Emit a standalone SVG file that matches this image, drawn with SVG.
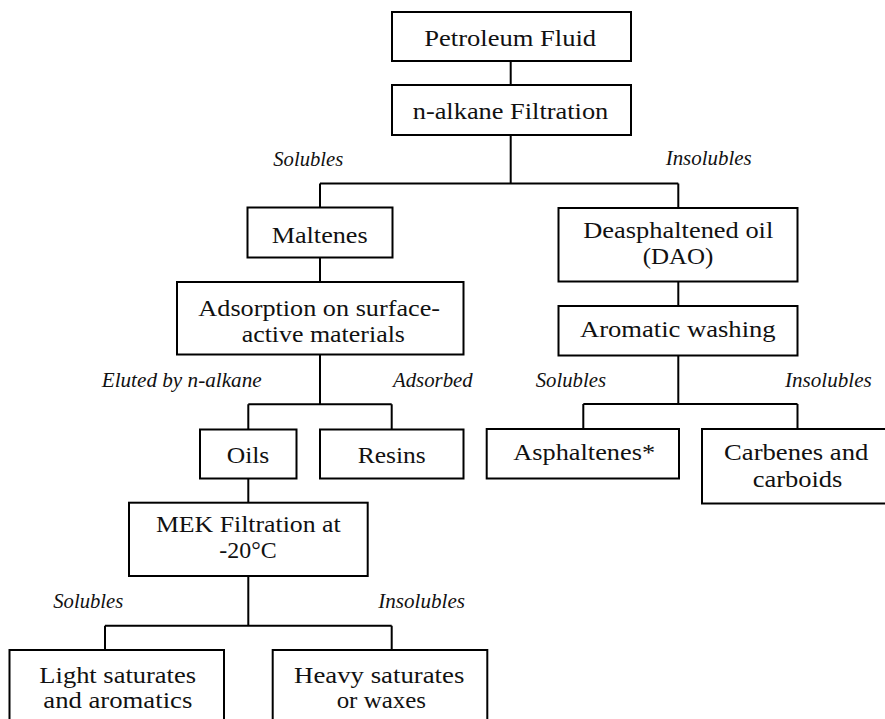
<svg xmlns="http://www.w3.org/2000/svg" width="885" height="719" viewBox="0 0 885 719">
<style>
rect.box{fill:#fff;stroke:#000;stroke-width:2}
.c path{fill:none;stroke:#000;stroke-width:2}
text{font-family:"Liberation Serif","Times New Roman",serif;fill:#111}
.t{font-size:24px;text-anchor:middle}
.l{font-size:21px;font-style:italic}
</style>
<rect width="885" height="719" fill="#fff"/>
<g class="c" id="connectors">
<path d="M510.7 61V85"/>
<path d="M510.7 135V183.5M320 183.5H678.3M320 183.5V207.5M678.3 183.5V208"/>
<path d="M320 257.5V282"/>
<path d="M678.3 281.5V306"/>
<path d="M320 354.5V404.3M248.3 404.3H391.7M248.3 404.3V429.5M391.7 404.3V429.5"/>
<path d="M678.3 355.5V404M583.3 404H797.5M583.3 404V429M797.5 404V429"/>
<path d="M248.3 478.5V502.7"/>
<path d="M248.3 576V625.7M105 625.7H391.7M105 625.7V650M391.7 625.7V650"/>
</g>
<g id="labels">
<text class="l" x="273.3" y="165.7" textLength="70" lengthAdjust="spacingAndGlyphs">Solubles</text>
<text class="l" x="665.7" y="165" textLength="86" lengthAdjust="spacingAndGlyphs">Insolubles</text>
<text class="l" x="101.7" y="387.3" textLength="160" lengthAdjust="spacingAndGlyphs">Eluted by n-alkane</text>
<text class="l" x="393" y="387" textLength="79.7" lengthAdjust="spacingAndGlyphs">Adsorbed</text>
<text class="l" x="535.7" y="386.7" textLength="70.3" lengthAdjust="spacingAndGlyphs">Solubles</text>
<text class="l" x="785" y="386.7" textLength="86.7" lengthAdjust="spacingAndGlyphs">Insolubles</text>
<text class="l" x="53.3" y="608.3" textLength="70" lengthAdjust="spacingAndGlyphs">Solubles</text>
<text class="l" x="378.3" y="608.3" textLength="86.7" lengthAdjust="spacingAndGlyphs">Insolubles</text>
</g>
<g id="petroleum"><rect class="box" x="392" y="12" width="239" height="49"/><text class="t" x="510.2" y="45.7" textLength="171.7" lengthAdjust="spacingAndGlyphs">Petroleum Fluid</text></g>
<g id="nalkane"><rect class="box" x="392" y="85" width="239" height="50"/><text class="t" x="510.5" y="119" textLength="195.6" lengthAdjust="spacingAndGlyphs">n-alkane Filtration</text></g>
<g id="maltenes"><rect class="box" x="247.5" y="207.5" width="145" height="50"/><text class="t" x="319.7" y="242.7" textLength="96" lengthAdjust="spacingAndGlyphs">Maltenes</text></g>
<g id="adsorption"><rect class="box" x="177" y="282" width="286.5" height="72.5"/><text class="t" x="319.2" y="315.7" textLength="241.7" lengthAdjust="spacingAndGlyphs">Adsorption on surface-</text><text class="t" x="323.3" y="341.7" textLength="163.3" lengthAdjust="spacingAndGlyphs">active materials</text></g>
<g id="dao"><rect class="box" x="558.5" y="208" width="239" height="73.5"/><text class="t" x="678.3" y="238.3" textLength="190" lengthAdjust="spacingAndGlyphs">Deasphaltened oil</text><text class="t" x="678" y="264" textLength="70.7" lengthAdjust="spacingAndGlyphs">(DAO)</text></g>
<g id="aromatic"><rect class="box" x="558.5" y="306" width="239" height="49.5"/><text class="t" x="677.8" y="336.7" textLength="195.7" lengthAdjust="spacingAndGlyphs">Aromatic washing</text></g>
<g id="oils"><rect class="box" x="200" y="429.5" width="96.5" height="49"/><text class="t" x="248" y="462.7" textLength="42.7" lengthAdjust="spacingAndGlyphs">Oils</text></g>
<g id="resins"><rect class="box" x="320" y="429.5" width="143.5" height="49"/><text class="t" x="391.7" y="462.7" textLength="68" lengthAdjust="spacingAndGlyphs">Resins</text></g>
<g id="asphaltenes"><rect class="box" x="486.7" y="429" width="192.3" height="49.5"/><text class="t" x="584.2" y="460" textLength="141.7" lengthAdjust="spacingAndGlyphs">Asphaltenes*</text></g>
<g id="carbenes"><rect class="box" x="702" y="429" width="190" height="74.5"/><text class="t" x="796.2" y="460" textLength="144.3" lengthAdjust="spacingAndGlyphs">Carbenes and</text><text class="t" x="797.5" y="486.7" textLength="89.7" lengthAdjust="spacingAndGlyphs">carboids</text></g>
<g id="mek"><rect class="box" x="129" y="502.7" width="238.7" height="73.3"/><text class="t" x="248.3" y="532.3" textLength="184.7" lengthAdjust="spacingAndGlyphs">MEK Filtration at</text><text class="t" x="248" y="557.7" textLength="57.3" lengthAdjust="spacingAndGlyphs">-20°C</text></g>
<g id="light"><rect class="box" x="9.5" y="650" width="214.5" height="80"/><text class="t" x="117.7" y="682.7" textLength="156.7" lengthAdjust="spacingAndGlyphs">Light saturates</text><text class="t" x="117.8" y="708.3" textLength="149" lengthAdjust="spacingAndGlyphs">and aromatics</text></g>
<g id="heavy"><rect class="box" x="272.7" y="650" width="214.6" height="80"/><text class="t" x="379.2" y="682.7" textLength="170.3" lengthAdjust="spacingAndGlyphs">Heavy saturates</text><text class="t" x="381.3" y="708.3" textLength="89.3" lengthAdjust="spacingAndGlyphs">or waxes</text></g>
</svg>
